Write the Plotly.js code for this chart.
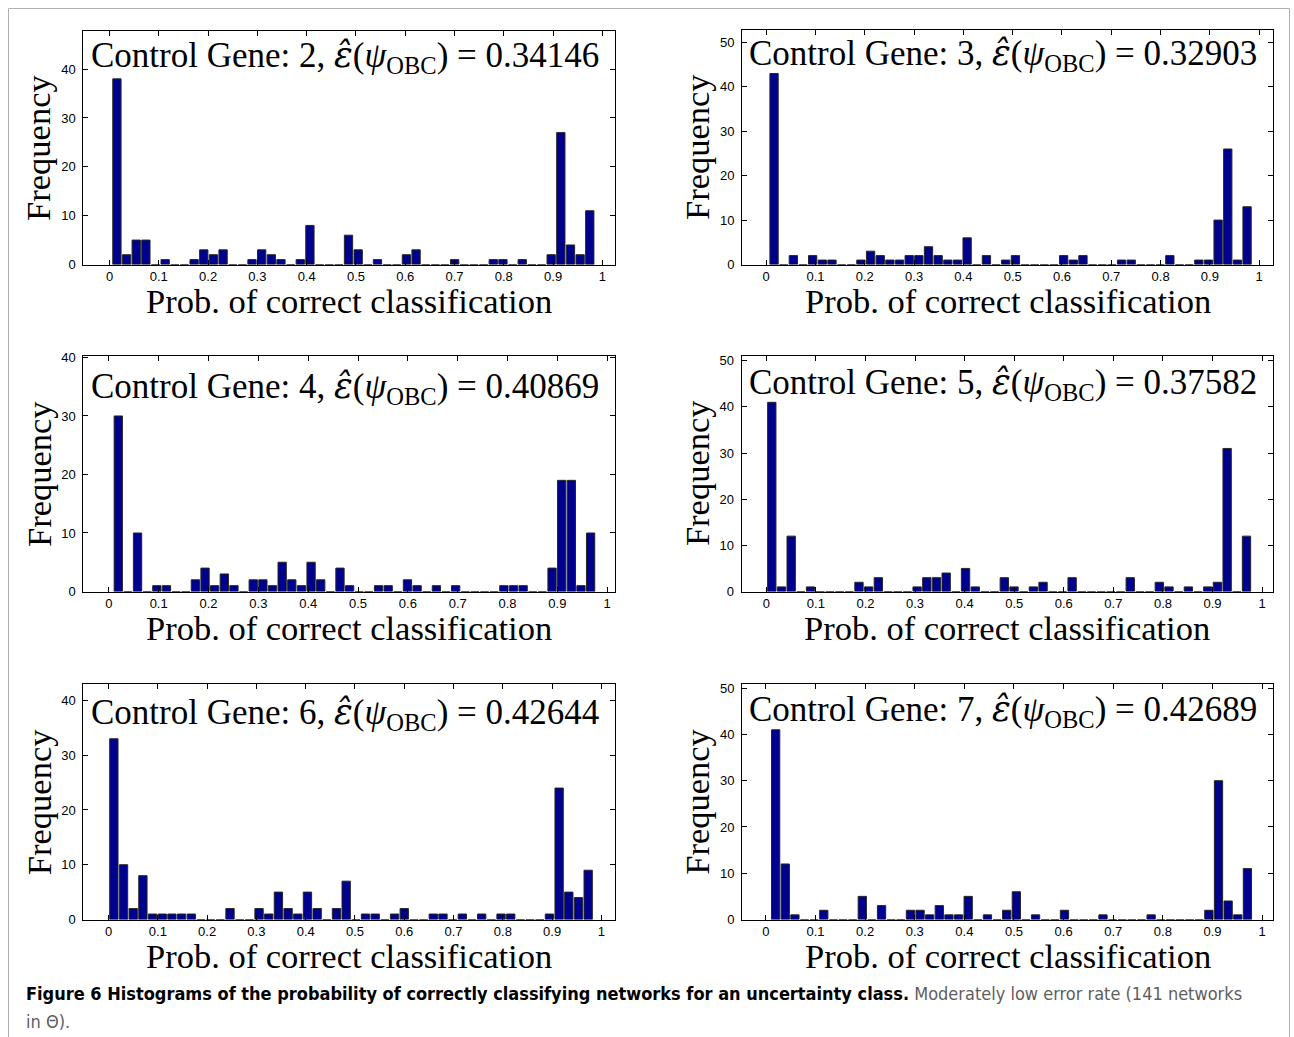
<!DOCTYPE html>
<html>
<head>
<meta charset="utf-8">
<script src="https://cdn.plot.ly/plotly-3.0.1.min.js"></script>
<style>
html,body{margin:0;padding:0;background:#ffffff;}
#chart{width:1294px;height:1037px;}
</style>
</head>
<body>
<div id="chart"></div>
<script>
// ---------- DATA ----------
const genes = [2, 3, 4, 5, 6, 7];
const errorRates = ['0.34146', '0.32903', '0.40869', '0.37582', '0.42644', '0.42689'];
// centre of first histogram bin and bin width (50 bins per panel)
const binFirstCenter = [0.0150, 0.0160, 0.0190, 0.0111, 0.0108, 0.0198];
const binWidth = [0.01958, 0.01958, 0.01934, 0.01954, 0.01964, 0.01940];

const countsGene2 = [38,2,5,5,0,1,0,0,1,3, 2,3,0,0,1,3,2,1,0,1, 8,0,0,0,6,3,0,1,0,0, 2,3,0,0,0,1,0,0,0,1, 1,0,1,0,0,2,27,4,2,11];
const countsGene3 = [43,0,2,0,2,1,1,0,0,1, 3,2,1,1,2,2,4,2,1,1, 6,0,2,0,1,2,0,0,0,0, 2,1,2,0,0,0,1,1,0,0, 0,2,0,0,1,1,10,26,1,13];
const countsGene4 = [30,0,10,0,1,1,0,0,2,4, 1,3,1,0,2,2,1,5,2,1, 5,2,0,4,1,0,0,1,1,0, 2,1,0,1,0,1,0,0,0,0, 1,1,1,0,0,4,19,19,1,10];
const countsGene5 = [41,1,12,0,1,0,0,0,0,2, 1,3,0,0,0,1,3,3,4,0, 5,1,0,0,3,1,0,1,2,0, 0,3,0,0,0,0,0,3,0,0, 2,1,0,1,0,1,2,31,0,12];
const countsGene6 = [33,10,2,8,1,1,1,1,1,0, 0,0,2,0,0,2,1,5,2,1, 5,2,0,2,7,0,1,1,0,1, 2,0,0,1,1,0,1,0,1,0, 1,1,0,0,0,1,24,5,4,9];
const countsGene7 = [41,12,1,0,0,2,0,0,0,5, 0,3,0,0,2,2,1,3,1,1, 5,0,1,0,2,6,0,1,0,0, 2,0,0,0,1,0,0,0,0,1, 0,0,0,0,0,2,30,4,1,11];
const allCounts = [countsGene2, countsGene3, countsGene4, countsGene5, countsGene6, countsGene7];

const xTickVals = [0, 0.1, 0.2, 0.3, 0.4, 0.5, 0.6, 0.7, 0.8, 0.9, 1];
const xTickText = ['0', '0.1', '0.2', '0.3', '0.4', '0.5', '0.6', '0.7', '0.8', '0.9', '1'];
const xLabel = 'Prob. of correct classification';
const yLabel = 'Frequency';
const captionBold = 'Figure 6 Histograms of the probability of correctly classifying networks for an uncertainty class.';
const captionRest = 'Moderately low error rate (141 networks';
const captionRest2 = 'in \u0398).';

// ---------- LAYOUT GEOMETRY (pixels) ----------
const W = 1294, H = 1037;
const panels = [
  {l: 83.4, r: 615.2, t: 30.5, b: 264.5, xr: [-0.053, 1.026], yr: [0, 47.9], titleY: 57, titleX: 89},
  {l: 742,  r: 1273,  t: 29.5, b: 264.5, xr: [-0.049, 1.028], yr: [0, 52.9], titleY: 55, titleX: 747},
  {l: 83.4, r: 615.2, t: 355.7, b: 591.5, xr: [-0.051, 1.016], yr: [0, 40.3], titleY: 388, titleX: 89},
  {l: 741.5, r: 1273, t: 355.7, b: 591.5, xr: [-0.050, 1.022], yr: [0, 51.1], titleY: 384, titleX: 747},
  {l: 83.4, r: 615.2, t: 684, b: 919.5, xr: [-0.051, 1.028], yr: [0, 43.0], titleY: 714, titleX: 89},
  {l: 742,  r: 1273,  t: 684, b: 919.5, xr: [-0.048, 1.022], yr: [0, 50.9], titleY: 711, titleX: 747}
];

const serif = '"Liberation Serif", "DejaVu Serif", serif';
const sans = '"Liberation Sans", Arial, sans-serif';
const capFont = '"DejaVu Sans Condensed", "Liberation Sans Narrow", sans-serif';
const barColor = '#00008f';
const titleSize = 35;
const labelSize = 34.5;

const px2x = v => v / W;
const px2y = v => 1 - v / H;

const data = [];
const layout = {
  width: W, height: H,
  margin: {l: 0, r: 0, t: 0, b: 0},
  paper_bgcolor: '#ffffff',
  plot_bgcolor: '#ffffff',
  showlegend: false,
  bargap: 0,
  annotations: [],
  shapes: []
};

panels.forEach((p, i) => {
  const n = i + 1;
  const xa = n === 1 ? 'x' : 'x' + n;
  const ya = n === 1 ? 'y' : 'y' + n;
  const counts = allCounts[i];
  const centers = counts.map((_, k) => binFirstCenter[i] + k * binWidth[i]);
  data.push({
    type: 'bar',
    x: centers,
    y: counts,
    width: binWidth[i] * 0.86,
    xaxis: xa, yaxis: ya,
    marker: {color: barColor, line: {color: '#262626', width: 1}},
    hoverinfo: 'x+y'
  });
  const axBase = {
    showline: true, linecolor: '#000', linewidth: 1, mirror: 'ticks',
    ticks: 'inside', ticklen: 5, tickwidth: 1, tickcolor: '#000',
    showgrid: false, zeroline: false,
    tickfont: {family: sans, size: 13, color: '#000'},
    fixedrange: true
  };
  layout['xaxis' + (n === 1 ? '' : n)] = Object.assign({}, axBase, {
    domain: [px2x(p.l), px2x(p.r)],
    range: p.xr,
    anchor: ya,
    tickmode: 'array', tickvals: xTickVals, ticktext: xTickText,
    ticklabelstandoff: 0
  });
  layout['yaxis' + (n === 1 ? '' : n)] = Object.assign({}, axBase, {
    domain: [px2y(p.b), px2y(p.t)],
    range: p.yr,
    anchor: xa,
    dtick: 10, tick0: 0,
    ticklabelstandoff: 4
  });
  // axis titles
  layout.annotations.push({
    xref: 'paper', yref: 'paper',
    x: px2x((p.l + p.r) / 2), y: px2y(p.b + 36.5),
    xanchor: 'center', yanchor: 'middle', showarrow: false,
    text: xLabel,
    font: {family: serif, size: labelSize, color: '#000'}
  });
  layout.annotations.push({
    xref: 'paper', yref: 'paper',
    x: px2x(p.l - 45), y: px2y((p.t + p.b) / 2),
    xanchor: 'center', yanchor: 'middle', showarrow: false,
    textangle: -90,
    text: yLabel,
    font: {family: serif, size: labelSize, color: '#000'}
  });
  // in-plot title
  const epsSpan = '<span style="font-family:\'DejaVu Serif\';font-style:italic;font-size:' + titleSize + 'px">\u03B5\u0302</span>';
  const psiSpan = '<span style="font-style:italic;font-size:' + titleSize + 'px">\u03C8</span>';
  layout.annotations.push({
    xref: 'paper', yref: 'paper',
    x: px2x(p.titleX), y: px2y(p.titleY),
    xanchor: 'left', yanchor: 'middle',
    showarrow: false,
    text: 'Control Gene: ' + genes[i] + ', ' + epsSpan + '(' + psiSpan + '<sub>OBC</sub>) = ' + errorRates[i],
    font: {family: serif, size: titleSize, color: '#000'}
  });
});

// caption (two lines)
layout.annotations.push({
  xref: 'paper', yref: 'paper',
  x: px2x(24), y: px2y(993),
  xanchor: 'left', yanchor: 'middle', align: 'left',
  showarrow: false,
  text: '<b>' + captionBold + '</b> <span style="color:#5e5e5e;font-size:18px">' + captionRest + '</span>',
  font: {family: capFont, size: 18, color: '#000'}
});
layout.annotations.push({
  xref: 'paper', yref: 'paper',
  x: px2x(24), y: px2y(1021),
  xanchor: 'left', yanchor: 'middle', align: 'left',
  showarrow: false,
  text: captionRest2,
  font: {family: capFont, size: 18, color: '#5e5e5e'}
});

// outer frame
layout.shapes.push({
  type: 'rect', xref: 'paper', yref: 'paper',
  x0: px2x(8.5), x1: px2x(1289.5), y0: px2y(1060), y1: px2y(8.5),
  line: {color: '#b0b0b0', width: 1}, fillcolor: 'rgba(0,0,0,0)', layer: 'below'
});

Plotly.newPlot('chart', data, layout, {displayModeBar: false, staticPlot: true});
</script>
</body>
</html>
